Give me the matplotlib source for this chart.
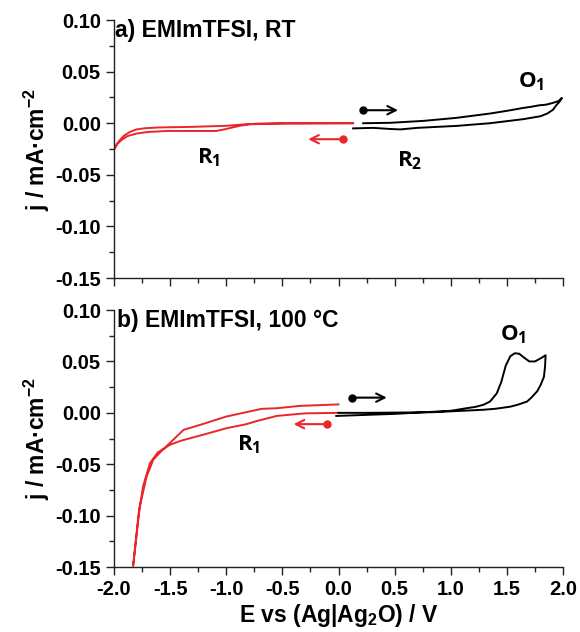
import matplotlib
matplotlib.use("Agg")
import matplotlib.pyplot as plt
from matplotlib.ticker import MultipleLocator, FormatStrFormatter

plt.rcParams['font.family'] = ['Liberation Sans', 'DejaVu Sans']
plt.rcParams['mathtext.default'] = 'regular'
plt.rcParams['axes.unicode_minus'] = False

RED = '#e9262b'

# ---- panel a) EMImTFSI, RT ----
# red: cathodic scan (forward then return)
a_red_E = [0.13, 0.10, -0.49, -0.79, -0.88, -0.94, -1.02, -1.09, -1.53, -1.70, -1.80, -1.88, -1.93, -1.97, -2.00,
           -1.98, -1.95, -1.91, -1.86, -1.80, -1.72, -1.60, -1.30, -1.00, -0.85, -0.70, -0.49, 0.10, 0.13]
a_red_j = [0.0, 0.0, -0.0003, -0.001, -0.0025, -0.004, -0.006, -0.0075, -0.0075, -0.0085, -0.010, -0.0125, -0.016, -0.020, -0.0255,
           -0.021, -0.0165, -0.012, -0.0085, -0.006, -0.0048, -0.0041, -0.0035, -0.0025, -0.0012, -0.0003, 0.0, 0.0, 0.0]
# black: anodic scan
a_blk_E = [0.13, 0.31, 0.45, 0.55, 0.70, 1.05, 1.35, 1.65, 1.80, 1.86, 1.91, 1.94, 1.97, 1.99,
           1.96, 1.91, 1.85, 1.79, 1.72, 1.65, 1.50, 1.35, 1.05, 0.76, 0.46, 0.22]
a_blk_j = [-0.005, -0.0045, -0.0055, -0.006, -0.0045, -0.0026, 0.0, 0.004, 0.0068, 0.0094, 0.013, 0.0174, 0.021, 0.0245,
           0.0215, 0.0197, 0.018, 0.0174, 0.016, 0.0149, 0.012, 0.0094, 0.0052, 0.0023, 0.0004, 0.0]

# ---- panel b) EMImTFSI, 100 C ----
b_red_E = [0.0, -0.30, -0.55, -0.73, -0.82, -1.00, -1.23, -1.40, -1.50, -1.61, -1.68, -1.74, -1.78, -1.83,
           -1.77, -1.71, -1.65, -1.59, -1.38, -1.23, -1.00, -0.82, -0.685, -0.55, -0.34, 0.0]
b_red_j = [0.0, -0.0005, -0.003, -0.008, -0.011, -0.015, -0.022, -0.027, -0.031, -0.0385, -0.049, -0.071, -0.097, -0.149,
           -0.091, -0.062, -0.0455, -0.0385, -0.0165, -0.0116, -0.0036, 0.0007, 0.0039, 0.0045, 0.0068, 0.0082]
b_blk_E = [-0.02, 0.5, 1.0, 1.14, 1.22, 1.29, 1.35, 1.41, 1.45, 1.49, 1.53, 1.57, 1.61, 1.65, 1.70, 1.75, 1.80, 1.845,
           1.84, 1.83, 1.80, 1.77, 1.72, 1.68, 1.60, 1.53, 1.40, 1.29, 0.84, 0.25, 0.0]
b_blk_j = [-0.003, -0.001, 0.002, 0.0045, 0.0058, 0.0078, 0.011, 0.019, 0.030, 0.046, 0.055, 0.058, 0.0575, 0.054,
           0.050, 0.050, 0.053, 0.056,
           0.045, 0.035, 0.027, 0.021, 0.015, 0.011, 0.008, 0.006, 0.004, 0.003, 0.0006, 0.0, 0.0]

# arrows: (start E, end E, j)
a_arrows = [(0.22, 0.53, 0.0126, 'black'), (0.04, -0.27, -0.0155, RED)]
b_arrows = [(0.12, 0.43, 0.0148, 'black'), (-0.10, -0.40, -0.011, RED)]

# peak labels: (text, E, j)
a_labels = [('R$_1$', -1.16, -0.033), ('R$_2$', 0.63, -0.036), ('O$_1$', 1.72, 0.040)]
b_labels = [('R$_1$', -0.80, -0.031), ('O$_1$', 1.56, 0.076)]

fig = plt.figure(figsize=(5.8, 6.32), dpi=100)
ax1 = fig.add_axes([0.1966, 0.5601, 0.7741, 0.4082])
ax2 = fig.add_axes([0.1966, 0.1028, 0.7741, 0.4066])

panels = [
    (ax1, a_red_E, a_red_j, a_blk_E, a_blk_j, a_arrows, a_labels, 'a) EMImTFSI, RT', -1.99),
    (ax2, b_red_E, b_red_j, b_blk_E, b_blk_j, b_arrows, b_labels, 'b) EMImTFSI, 100 °C', -1.97),
]

for ax, rE, rj, kE, kj, arrows, labels, title, tx in panels:
    ax.plot(rE, rj, color=RED, lw=1.4)
    ax.plot(kE, kj, color='black', lw=1.4)
    for e0, e1, jj, c in arrows:
        ax.plot([e0], [jj], 'o', color=c, ms=5)
        ax.annotate('', xy=(e1, jj), xytext=(e0, jj),
                    arrowprops=dict(arrowstyle='->', color=c, lw=1.5,
                                    shrinkA=0, shrinkB=0, mutation_scale=15))
    for txt, e, jj in labels:
        ax.text(e, jj, txt, family=['Open Sans', 'DejaVu Sans'], fontweight='bold',
                fontsize=16, ha='center', va='center')
    ax.text(tx, 0.090, title, fontsize=16.5, fontweight='bold', ha='left', va='center')

    ax.set_xlim(-2.0, 2.0)
    ax.set_ylim(-0.15, 0.10)
    ax.spines['top'].set_visible(False)
    ax.spines['right'].set_visible(False)
    for s in ['left', 'bottom']:
        ax.spines[s].set_linewidth(1.0)
        ax.spines[s].set_color('#222222')
    ax.xaxis.set_major_locator(MultipleLocator(0.5))
    ax.xaxis.set_minor_locator(MultipleLocator(0.25))
    ax.yaxis.set_major_locator(MultipleLocator(0.05))
    ax.yaxis.set_minor_locator(MultipleLocator(0.025))
    ax.yaxis.set_major_formatter(FormatStrFormatter('%.2f'))
    ax.xaxis.set_major_formatter(FormatStrFormatter('%.1f'))
    ax.tick_params(which='major', direction='out', length=6, width=1.0, color='#222222')
    ax.tick_params(which='minor', direction='out', length=3.5, width=1.0, color='#222222')
    ax.tick_params(labelsize=14.5)
    for lab in ax.get_xticklabels() + ax.get_yticklabels():
        lab.set_fontweight('bold')
    ax.set_ylabel('j / mA·cm$^{-2}$', fontsize=16.5, fontweight='bold', labelpad=2)

ax1.tick_params(labelbottom=False)
ax2.set_xlabel('E vs (Ag|Ag$_2$O) / V', fontsize=16.5, fontweight='bold', labelpad=2)

fig.savefig('out.png', dpi=100)
